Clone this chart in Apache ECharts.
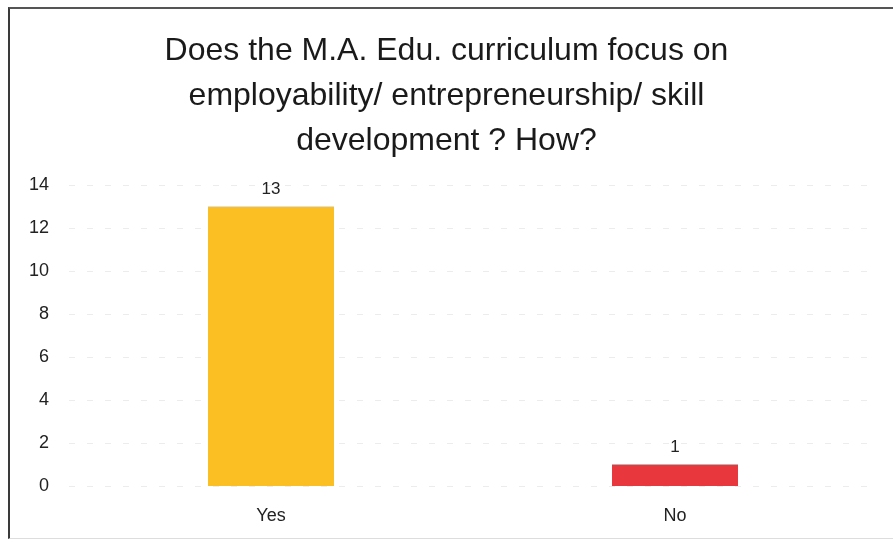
<!DOCTYPE html>
<html>
<head>
<meta charset="utf-8">
<script src="https://cdn.jsdelivr.net/npm/echarts@6/dist/echarts.min.js"></script>
<style>
  html, body { margin: 0; padding: 0; background: #fff; }
  #frame {
    position: absolute; left: 8px; top: 7px; width: 893px; height: 532px;
    border-left: 2px solid #3a3a3a; border-top: 2px solid #555;
    border-bottom: 1px solid #ddd; box-sizing: border-box;
  }
  #chart { position: absolute; left: 0; top: 0; width: 893px; height: 542px; }
</style>
</head>
<body>
<div id="frame"></div>
<div id="chart"></div>
<script>
// Survey answers and their counts
const categories = ['Yes', 'No'];
const counts = [13, 1];
const barColors = ['#FBBF24', '#E8383D'];
const yTicks = { min: 0, max: 14, interval: 2 };

const labelFont = 'Liberation Sans, Arial, sans-serif';

const chart = echarts.init(document.getElementById('chart'), null, { renderer: 'canvas' });
chart.setOption({
  animation: false,
  title: {
    text: 'Does the M.A. Edu. curriculum focus on\nemployability/ entrepreneurship/ skill\ndevelopment ? How?',
    left: 'center',
    top: 24,
    textStyle: {
      fontFamily: labelFont,
      fontSize: 32,
      fontWeight: 'normal',
      color: '#1a1a1a',
      lineHeight: 45,
      align: 'center'
    }
  },
  grid: { left: 69, right: 16, top: 185, bottom: 56 },
  xAxis: {
    type: 'category',
    data: categories,
    axisLine: { show: false },
    axisTick: { show: false },
    axisLabel: { color: '#222', fontSize: 18, margin: 21, fontFamily: labelFont }
  },
  yAxis: {
    type: 'value',
    min: yTicks.min,
    max: yTicks.max,
    interval: yTicks.interval,
    axisLabel: { color: '#222', fontSize: 18, margin: 20, align: 'right', fontFamily: labelFont },
    splitLine: { lineStyle: { color: '#ececec', type: [6, 12], width: 1 } }
  },
  series: [{
    type: 'bar',
    barWidth: 126,
    data: counts.map((v, i) => ({ value: v, itemStyle: { color: barColors[i] } })),
    label: {
      show: true,
      position: 'top',
      distance: 9,
      color: '#222',
      fontSize: 17,
      fontFamily: labelFont
    }
  }]
});
</script>
</body>
</html>
